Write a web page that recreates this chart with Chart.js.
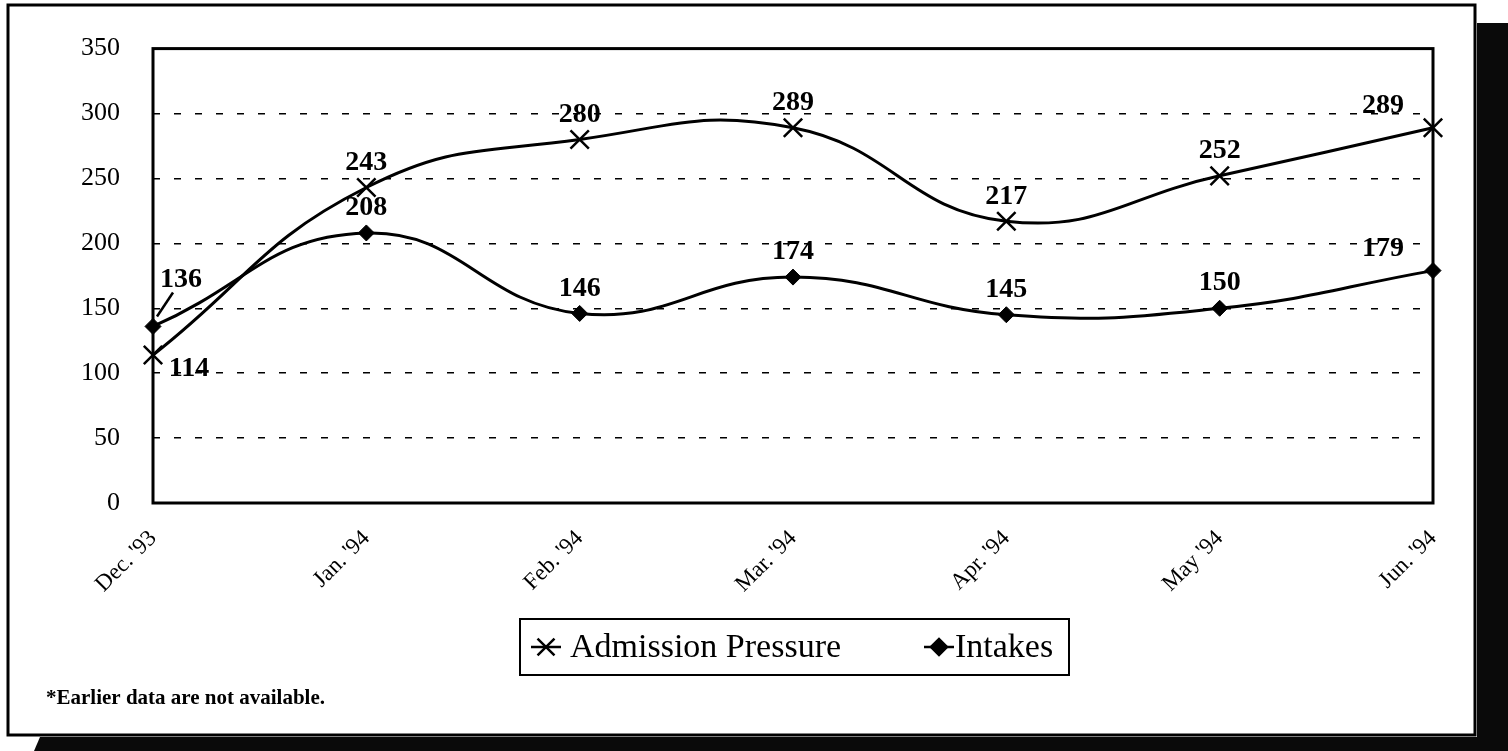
<!DOCTYPE html>
<html>
<head>
<meta charset="utf-8">
<script src="https://cdn.jsdelivr.net/npm/chart.js@4/dist/chart.umd.min.js"></script>
<style>
  html, body { margin: 0; padding: 0; background: #fff; }
  #wrap { width: 1508px; height: 751px; position: relative; }
</style>
</head>
<body>
<div id="wrap"><canvas id="chart"></canvas></div>
<script>
// data
const months = ["Dec. '93", "Jan. '94", "Feb. '94", "Mar. '94", "Apr. '94", "May '94", "Jun. '94"];
const admissionPressure = [114, 243, 280, 289, 217, 252, 289];
const intakes = [136, 208, 146, 174, 145, 150, 179];
const yMin = 0, yMax = 350, yStep = 50;
const footnote = '*Earlier data are not available.';

const SERIF = '"Liberation Serif", "Times New Roman", serif';

// label placement tweaks (dataset -> point index -> [dx, dy, leader])
const labelOffsets = {
    0: { 0: [36, 14], 6: [-50, -22] },
    1: { 0: [28, -47, true], 6: [-50, -22] }
};

// Outer frame with the dark scan shadow
const framePlugin = {
    id: 'frame',
    beforeDraw(chart) {
        const ctx = chart.ctx;
        ctx.save();
        ctx.fillStyle = '#fff';
        ctx.fillRect(0, 0, chart.width, chart.height);
        ctx.fillStyle = '#0a0a0a';
        ctx.fillRect(1477, 23, chart.width - 1477, chart.height - 23);
        ctx.beginPath();
        ctx.moveTo(40, 737);
        ctx.lineTo(chart.width, 737);
        ctx.lineTo(chart.width, chart.height);
        ctx.lineTo(34, chart.height);
        ctx.closePath();
        ctx.fill();
        ctx.strokeStyle = '#000';
        ctx.lineWidth = 3;
        ctx.strokeRect(8, 5, 1467, 730);
        ctx.restore();
    },
    beforeDatasetsDraw(chart) {
        const { ctx, chartArea: a } = chart;
        ctx.save();
        ctx.strokeStyle = '#000';
        ctx.lineWidth = 3;
        ctx.strokeRect(a.left, a.top, a.right - a.left, a.bottom - a.top);
        ctx.restore();
    },
    afterDraw(chart) {
        const ctx = chart.ctx;
        ctx.save();
        // legend box
        ctx.strokeStyle = '#000';
        ctx.lineWidth = 2;
        ctx.strokeRect(520, 619, 549, 56);
        const items = [
            { mx: 546, tx: 570 },
            { mx: 939, tx: 955 }
        ];
        const ly = 647;
        chart.data.datasets.forEach((ds, i) => {
            const it = items[i];
            ctx.strokeStyle = '#000';
            ctx.lineWidth = 2.5;
            ctx.beginPath();
            ctx.moveTo(it.mx - 15, ly);
            ctx.lineTo(it.mx + 15, ly);
            ctx.stroke();
            Chart.helpers.drawPoint(ctx, {
                pointStyle: ds.pointStyle,
                radius: ds.pointStyle === 'crossRot' ? 12 : 8,
                borderWidth: 2.5
            }, it.mx, ly);
            ctx.fillStyle = '#000';
            ctx.font = '34px ' + SERIF;
            ctx.textAlign = 'left';
            ctx.textBaseline = 'middle';
            ctx.fillText(ds.label, it.tx, ly + 1);
        });
        // footnote
        ctx.font = 'bold 21px ' + SERIF;
        ctx.textAlign = 'left';
        ctx.textBaseline = 'middle';
        ctx.fillText(footnote, 46, 699);
        ctx.restore();
    }
};

// value labels over the points
const valueLabels = {
    id: 'valueLabels',
    afterDatasetsDraw(chart) {
        const ctx = chart.ctx;
        ctx.save();
        ctx.fillStyle = '#000';
        ctx.strokeStyle = '#000';
        ctx.font = 'bold 28px ' + SERIF;
        ctx.textAlign = 'center';
        ctx.textBaseline = 'middle';
        chart.data.datasets.forEach((ds, di) => {
            const meta = chart.getDatasetMeta(di);
            meta.data.forEach((pt, i) => {
                const off = (labelOffsets[di] && labelOffsets[di][i]) || [0, -25];
                const x = pt.x + off[0], y = pt.y + off[1];
                if (off[2]) {
                    ctx.lineWidth = 2.5;
                    ctx.beginPath();
                    ctx.moveTo(pt.x + 4, pt.y - 10);
                    ctx.lineTo(x - 8, y + 13);
                    ctx.stroke();
                }
                ctx.fillText(ds.data[i], x, y);
            });
        });
        ctx.restore();
    }
};

new Chart(document.getElementById('chart'), {
    type: 'line',
    data: {
        labels: months,
        datasets: [{
            label: 'Admission Pressure',
            data: admissionPressure,
            borderColor: '#000',
            backgroundColor: '#000',
            borderWidth: 3,
            pointStyle: 'crossRot',
            pointRadius: 13,
            pointBorderWidth: 2.5,
            tension: 0.45,
            clip: false
        }, {
            label: 'Intakes',
            data: intakes,
            borderColor: '#000',
            backgroundColor: '#000',
            borderWidth: 3,
            pointStyle: 'rectRot',
            pointRadius: 8,
            pointBorderWidth: 1,
            tension: 0.45,
            clip: false
        }]
    },
    options: {
        responsive: true,
        maintainAspectRatio: false,
        animation: false,
        layout: { padding: { left: 0, top: 47, right: 75, bottom: 0 } },
        plugins: {
            legend: { display: false },
            tooltip: { enabled: false }
        },
        scales: {
            x: {
                offset: false,
                grid: { display: false },
                border: { display: false },
                ticks: {
                    color: '#000',
                    font: { family: SERIF, size: 23 },
                    minRotation: 45,
                    maxRotation: 45,
                    padding: 14
                },
                afterFit(scale) { scale.height = 248; }
            },
            y: {
                min: yMin,
                max: yMax,
                border: { display: false, dash: [7, 14] },
                grid: {
                    drawTicks: false,
                    lineWidth: 1.5,
                    color: c => (c.tick.value === yMin || c.tick.value === yMax) ? 'rgba(0,0,0,0)' : '#000'
                },
                ticks: {
                    stepSize: yStep,
                    color: '#000',
                    font: { family: SERIF, size: 26 },
                    padding: 33
                },
                afterFit(scale) { scale.width = 153; }
            }
        }
    },
    plugins: [framePlugin, valueLabels]
});
</script>
</body>
</html>
